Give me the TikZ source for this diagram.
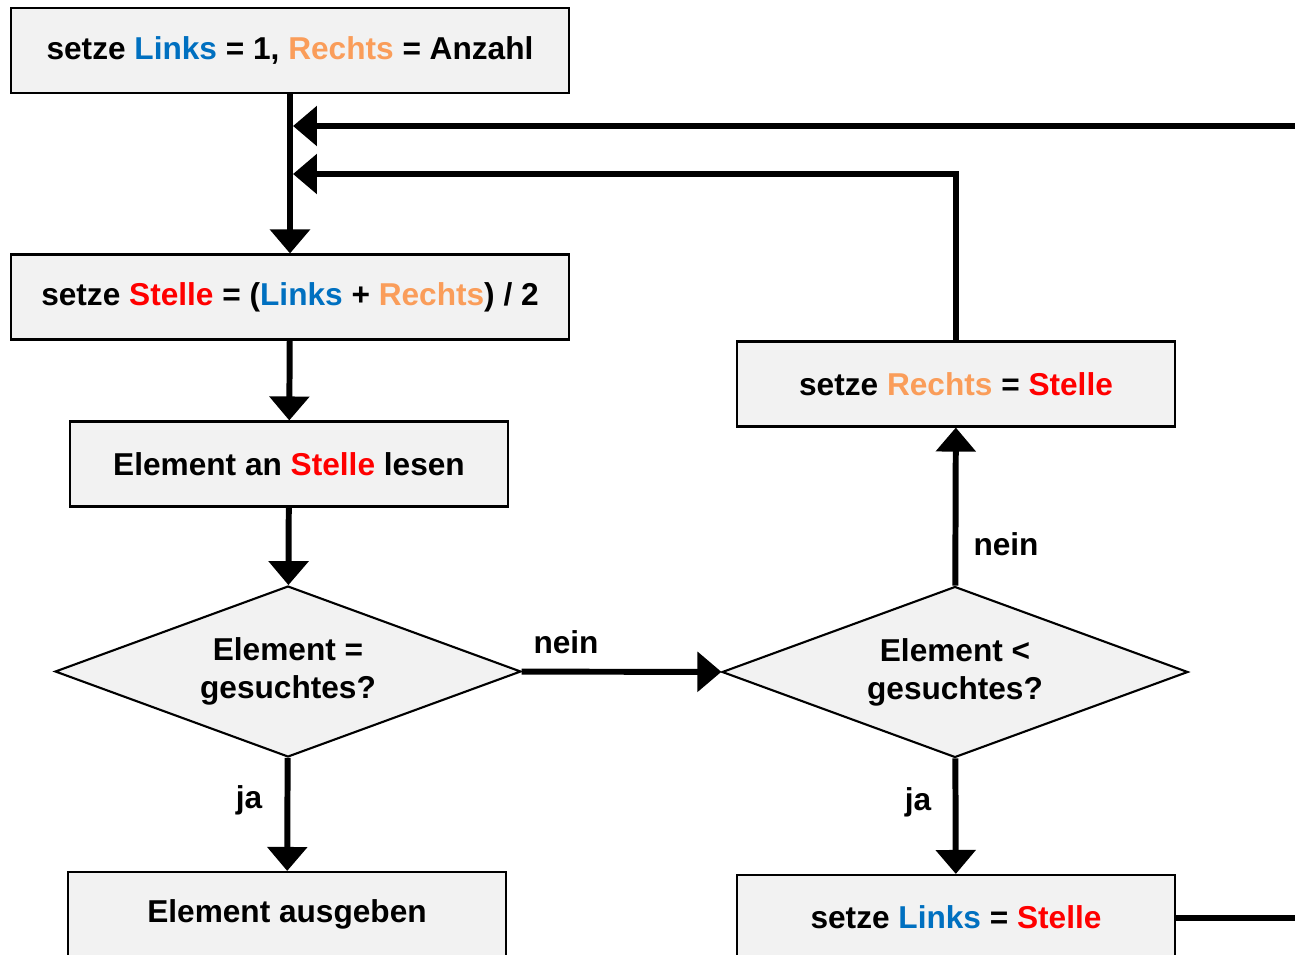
\documentclass[tikz,border=0pt]{standalone}
\usepackage{fontspec}
\setmainfont{Liberation Sans}
\usetikzlibrary{arrows.meta,shapes.geometric}

\definecolor{links}{HTML}{0070C0}
\definecolor{rechts}{HTML}{FA9D5A}
\definecolor{stelle}{HTML}{FF0000}
\definecolor{boxfill}{HTML}{F2F2F2}

\newcommand{\vLinks}{\textcolor{links}{Links}}
\newcommand{\vRechts}{\textcolor{rechts}{Rechts}}
\newcommand{\vStelle}{\textcolor{stelle}{Stelle}}

\tikzset{
  every node/.style={font=\fontsize{18}{21.5}\selectfont\bfseries},
  stepbox/.style={draw, line width=1.2pt, fill=boxfill, inner sep=0pt,
    minimum width=#1, minimum height=1.7cm},
  stepbox/.default=11.16cm,
  test/.style={draw, diamond, line width=1.2pt, fill=boxfill, inner sep=0pt,
    align=center, shape aspect=2.725, minimum width=9.32cm, minimum height=3.42cm},
  flow/.style={line width=3.4pt, -{Triangle[length=0.48cm,width=0.78cm]}},
  plain/.style={line width=3.4pt}
}

\begin{document}
\begin{tikzpicture}[x=0.02cm, y=-0.02cm]
  \useasboundingbox (0,0) rectangle (1295,954);

  %%% left column
  \node[stepbox] (init) at (290,50.5) {setze \vLinks{} = 1, \vRechts{} = Anzahl};
  \node[stepbox] (mitte) at (290,297) {setze \vStelle{} = (\vLinks{} + \vRechts{}) / 2};
  \node[stepbox=8.76cm] (lesen) at (289,464) {Element an \vStelle{} lesen};
  \node[test] (gleich) at (288,671.5) {Element =\\gesuchtes?};
  \node[stepbox=8.76cm] (ausgabe) at (287,914.5) {Element ausgeben};

  %%% right column
  \node[stepbox=8.76cm] (rechts) at (956,384) {setze \vRechts{} = \vStelle{}};
  \node[test] (kleiner) at (955,672) {Element <\\gesuchtes?};
  \node[stepbox=8.76cm] (links) at (956,917.5) {setze \vLinks{} = \vStelle{}};

  %%% joins on the main line
  \coordinate (j1) at (293,126);
  \coordinate (j2) at (293,174);

  %%% connectors
  \draw[flow] (init) -- (mitte);
  \draw[flow] (mitte) -- (lesen);
  \draw[flow] (lesen) -- (gleich);
  \draw[flow] (gleich) -- (ausgabe);
  \draw[flow] (gleich) -- (kleiner);
  \draw[flow] (kleiner) -- (rechts);
  \draw[flow] (kleiner) -- (links);
  \draw[flow] (rechts.north) |- (j2);
  \draw[flow] (links.east) -- ++(150,0) |- (j1);

  %%% labels
  \node (l-nein1) at (566,642) {nein};
  \node (l-ja1) at (249,800) {ja};
  \node (l-nein2) at (1006,544) {nein};
  \node (l-ja2) at (918,802) {ja};
\end{tikzpicture}
\end{document}
